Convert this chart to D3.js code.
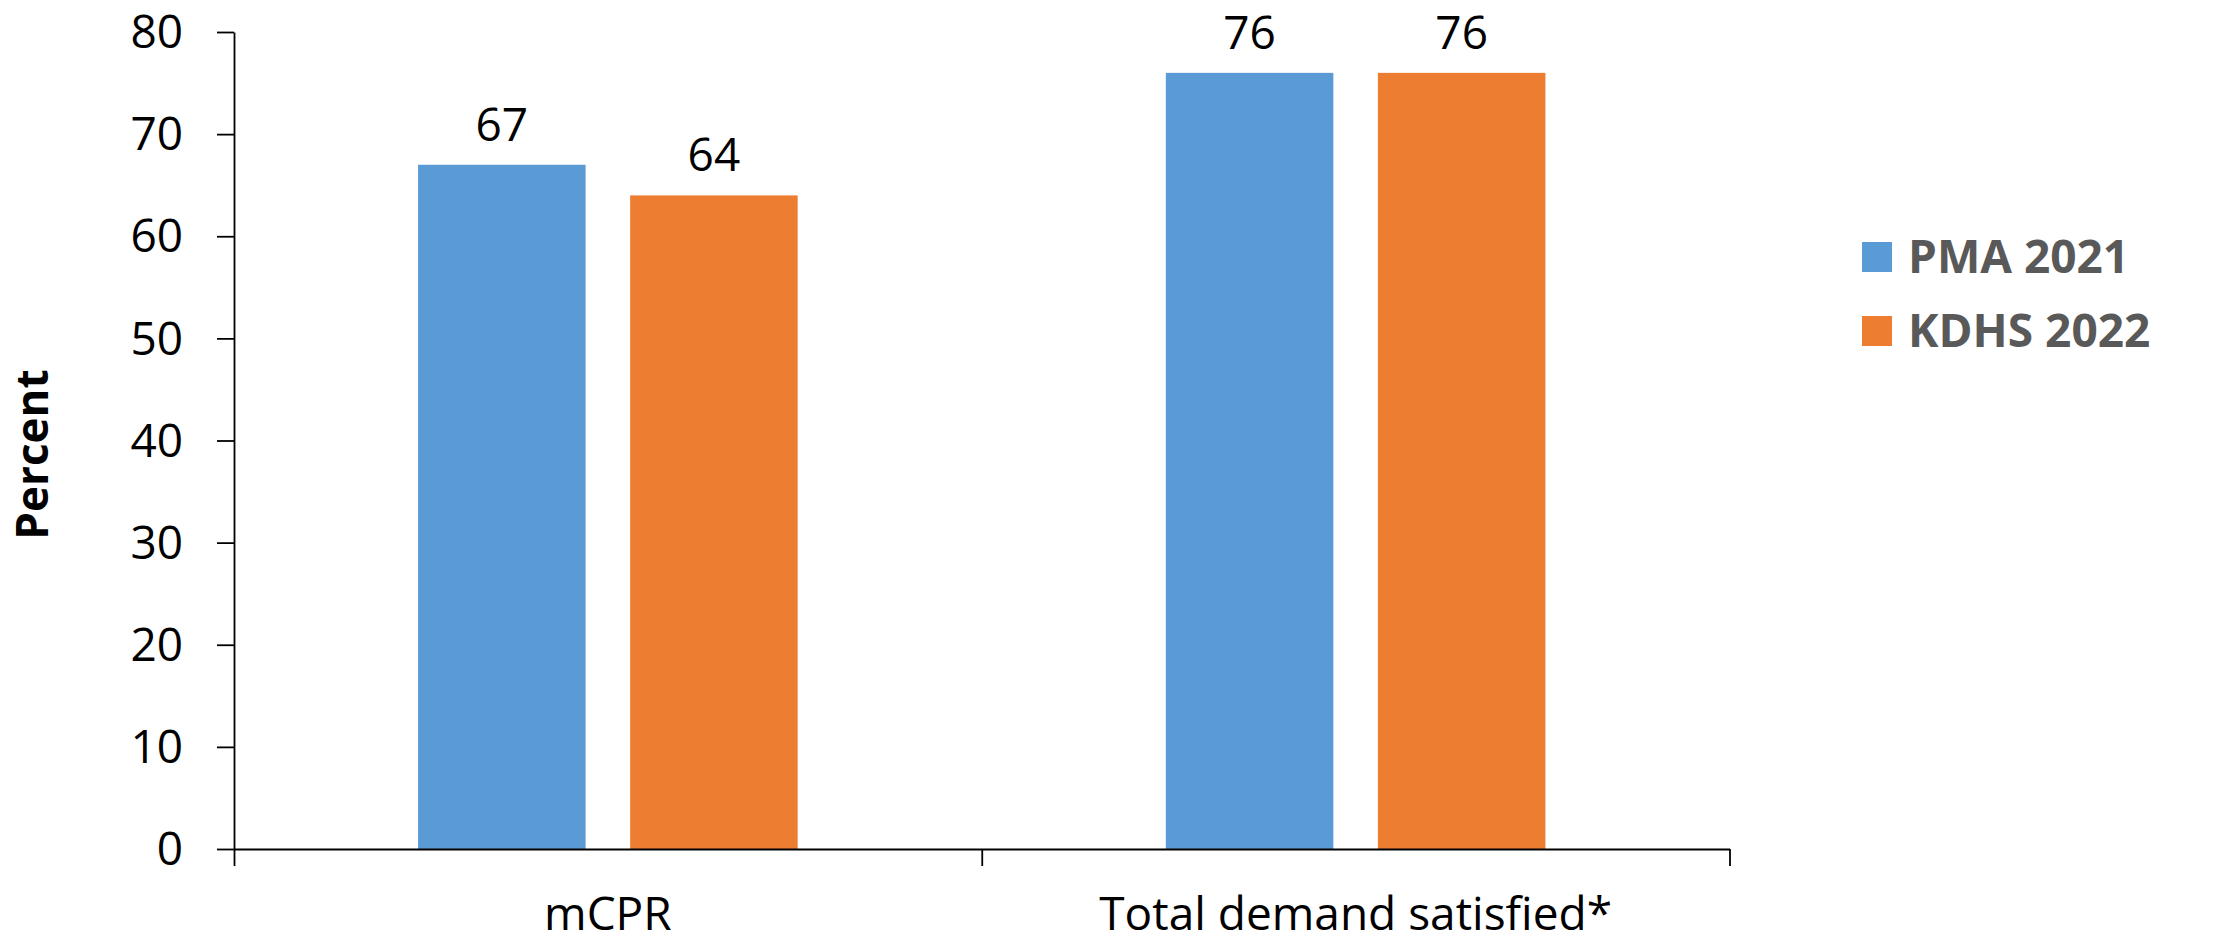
<!DOCTYPE html>
<html>
<head>
<meta charset="utf-8">
<script src="https://cdn.jsdelivr.net/npm/d3@7"></script>
<style>
  html, body { margin: 0; padding: 0; background: #fff; }
  svg text { font-family: "Open Sans", sans-serif; }
</style>
</head>
<body>
<svg id="chart" width="2228" height="944"></svg>
<script>
const categories = ["mCPR", "Total demand satisfied*"];
const seriesNames = ["PMA 2021", "KDHS 2022"];
const pma2021 = [67, 76];
const kdhs2022 = [64, 76];
const yTicks = [0, 10, 20, 30, 40, 50, 60, 70, 80];
const colors = ["#5B9BD5", "#ED7D31"];

const seriesValues = [pma2021, kdhs2022];
const svg = d3.select("#chart");

const mLeft = 234, mRight = 1729.5, mTop = 32, mBottom = 849;

const x0 = d3.scaleBand().domain(categories).range([mLeft, mRight]).paddingInner(0).paddingOuter(0);
const x1 = d3.scaleBand().domain(seriesNames).range([0, x0.bandwidth()]).paddingInner(0.21).paddingOuter(0.868);
const y = d3.scaleLinear().domain([0, 80]).range([mBottom, mTop]);

// bars
const groups = svg.append("g").selectAll("g")
  .data(categories).join("g")
  .attr("transform", d => `translate(${x0(d)},0)`);

groups.selectAll("rect")
  .data((c, ci) => seriesNames.map((s, si) => ({ s, si, v: seriesValues[si][ci] })))
  .join("rect")
  .attr("x", d => x1(d.s))
  .attr("y", d => y(d.v))
  .attr("width", x1.bandwidth())
  .attr("height", d => y(0) - y(d.v))
  .attr("fill", d => colors[d.si]);

groups.selectAll("text.val")
  .data((c, ci) => seriesNames.map((s, si) => ({ s, si, v: seriesValues[si][ci] })))
  .join("text")
  .attr("class", "val")
  .attr("x", d => x1(d.s) + x1.bandwidth() / 2)
  .attr("y", d => y(d.v) - 24)
  .attr("text-anchor", "middle")
  .attr("font-size", 46)
  .attr("fill", "#000")
  .text(d => d.v);

// y axis
const yAxis = d3.axisLeft(y).tickValues(yTicks).tickSize(17).tickSizeOuter(0).tickPadding(34);
const gy = svg.append("g").attr("transform", `translate(${mLeft},0)`).call(yAxis);
gy.select(".domain").attr("stroke", "#000").attr("stroke-width", 1.8);
gy.selectAll(".tick line").attr("stroke", "#000").attr("stroke-width", 1.8);
gy.selectAll(".tick text").attr("font-size", 46).attr("fill", "#000")
  .attr("font-family", "'Open Sans', sans-serif").attr("dy", "0.34em");

// x axis line
const xLin = d3.scaleLinear().domain([0, categories.length]).range([mLeft, mRight]);
const xAxis = d3.axisBottom(xLin).tickValues(d3.range(categories.length + 1)).tickSize(17).tickSizeOuter(0).tickFormat("");
const gx = svg.append("g").attr("transform", `translate(0,${mBottom})`).call(xAxis);
gx.select(".domain").attr("stroke", "#000").attr("stroke-width", 1.8);
gx.selectAll(".tick line").attr("stroke", "#000").attr("stroke-width", 1.8);

// category labels
svg.append("g").selectAll("text")
  .data(categories).join("text")
  .attr("x", d => x0(d) + x0.bandwidth() / 2)
  .attr("y", 930)
  .attr("text-anchor", "middle")
  .attr("font-size", 46)
  .attr("fill", "#000")
  .text(d => d);

// y axis title
svg.append("text")
  .attr("transform", `translate(48,${(mTop + mBottom) / 2 + 14}) rotate(-90)`)
  .attr("text-anchor", "middle")
  .attr("font-size", 44)
  .attr("font-weight", "bold")
  .attr("fill", "#000")
  .text("Percent");

// legend
const legend = svg.append("g").selectAll("g")
  .data(seriesNames).join("g")
  .attr("transform", (d, i) => `translate(1862,${242 + i * 74})`);
legend.append("rect").attr("width", 30).attr("height", 30).attr("fill", (d, i) => colors[i]);
legend.append("text")
  .attr("x", 46).attr("y", 31)
  .attr("font-size", 46).attr("font-weight", "bold").attr("fill", "#595959")
  .text(d => d);
</script>
</body>
</html>
